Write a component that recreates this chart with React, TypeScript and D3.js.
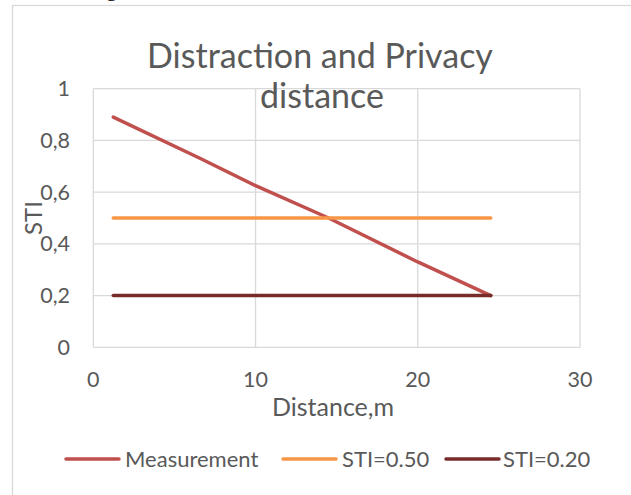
import React from "react";
import * as d3 from "d3";

const measurementX = [1.23, 6.6, 10, 14.5, 20, 24.5];
const measurementY = [0.89, 0.73, 0.625, 0.5, 0.33, 0.2];
const sti50X = [1.23, 24.5];
const sti50Y = [0.5, 0.5];
const sti20X = [1.23, 24.5];
const sti20Y = [0.2, 0.2];
const xTicks = [0, 10, 20, 30];
const yTicks = [0, 0.2, 0.4, 0.6, 0.8, 1];
const seriesNames = ["Measurement", "STI=0.50", "STI=0.20"];
const seriesColors = ["#C0504D", "#F79646", "#772C2A"];

const W = 631;
const H = 495;
const FONT = "Lato, 'Open Sans', sans-serif";
const TXT = "#595959";
const GRID = "#D9D9D9";

export default function App() {
  const x = d3.scaleLinear().domain([0, 30]).range([93.3, 580]);
  const y = d3.scaleLinear().domain([0, 1]).range([347.3, 88.7]);
  const line = d3
    .line<[number, number]>()
    .x((d) => x(d[0]))
    .y((d) => y(d[1]));
  const series = [
    d3.zip(measurementX, measurementY) as [number, number][],
    d3.zip(sti50X, sti50Y) as [number, number][],
    d3.zip(sti20X, sti20Y) as [number, number][],
  ];
  const fmtY = (v: number) => (v === 0 || v === 1 ? String(v) : v.toFixed(1).replace(".", ","));

  const legendLineX = [66, 283, 446];
  const legendTextX = [125, 342, 503];
  const legendY = 459;

  return (
    <svg
      width={W}
      height={H}
      style={{ position: "absolute", left: 0, top: 0, background: "#fff" }}
      fontFamily={FONT}
    >
      <rect x={0} y={0} width={W} height={H} fill="#fff" />
      <text x={106} y={-4} fontFamily="'Liberation Serif', serif" fontSize={22} fill="#000">
        g
      </text>
      <rect x={12.5} y={5.5} width={W} height={H} fill="#fff" stroke={GRID} strokeWidth={1.3} />

      {/* gridlines */}
      {yTicks.map((t) => (
        <line key={"gy" + t} x1={x(0)} x2={x(30)} y1={y(t)} y2={y(t)} stroke={GRID} strokeWidth={1.3} />
      ))}
      {xTicks.map((t) => (
        <line key={"gx" + t} x1={x(t)} x2={x(t)} y1={y(0)} y2={y(1)} stroke={GRID} strokeWidth={1.3} />
      ))}

      {/* y tick labels */}
      {yTicks.map((t) => (
        <text key={"ly" + t} x={70} y={y(t)} dy="0.35em" textAnchor="end" fontSize={21.5} fill={TXT}>
          {fmtY(t)}
        </text>
      ))}
      {/* x tick labels */}
      {xTicks.map((t) => (
        <text key={"lx" + t} x={x(t)} y={379} dy="0.35em" textAnchor="middle" fontSize={21.5} fill={TXT}>
          {t}
        </text>
      ))}

      {/* axis titles */}
      <text x={333} y={407} dy="0.35em" textAnchor="middle" fontSize={25} fill={TXT}>
        Distance,m
      </text>
      <text
        transform={`translate(34,218) rotate(-90)`}
        dy="0.35em"
        textAnchor="middle"
        fontSize={24}
        fill={TXT}
      >
        STI
      </text>

      {/* series */}
      {series.map((s, i) => (
        <path
          key={"s" + i}
          d={line(s) || ""}
          fill="none"
          stroke={seriesColors[i]}
          strokeWidth={3.5}
          strokeLinecap="round"
          strokeLinejoin="round"
        />
      ))}

      {/* title */}
      <text x={320} y={56} dy="0.35em" textAnchor="middle" fontSize={34} fill={TXT}>
        Distraction and Privacy
      </text>
      <text x={322} y={96} dy="0.35em" textAnchor="middle" fontSize={34} fill={TXT}>
        distance
      </text>

      {/* legend */}
      {seriesNames.map((n, i) => (
        <g key={"lg" + i}>
          <line
            x1={legendLineX[i]}
            x2={legendLineX[i] + 53}
            y1={legendY}
            y2={legendY}
            stroke={seriesColors[i]}
            strokeWidth={3.5}
            strokeLinecap="round"
          />
          <text x={legendTextX[i]} y={legendY} dy="0.35em" fontSize={22} fill={TXT}>
            {n}
          </text>
        </g>
      ))}
    </svg>
  );
}
